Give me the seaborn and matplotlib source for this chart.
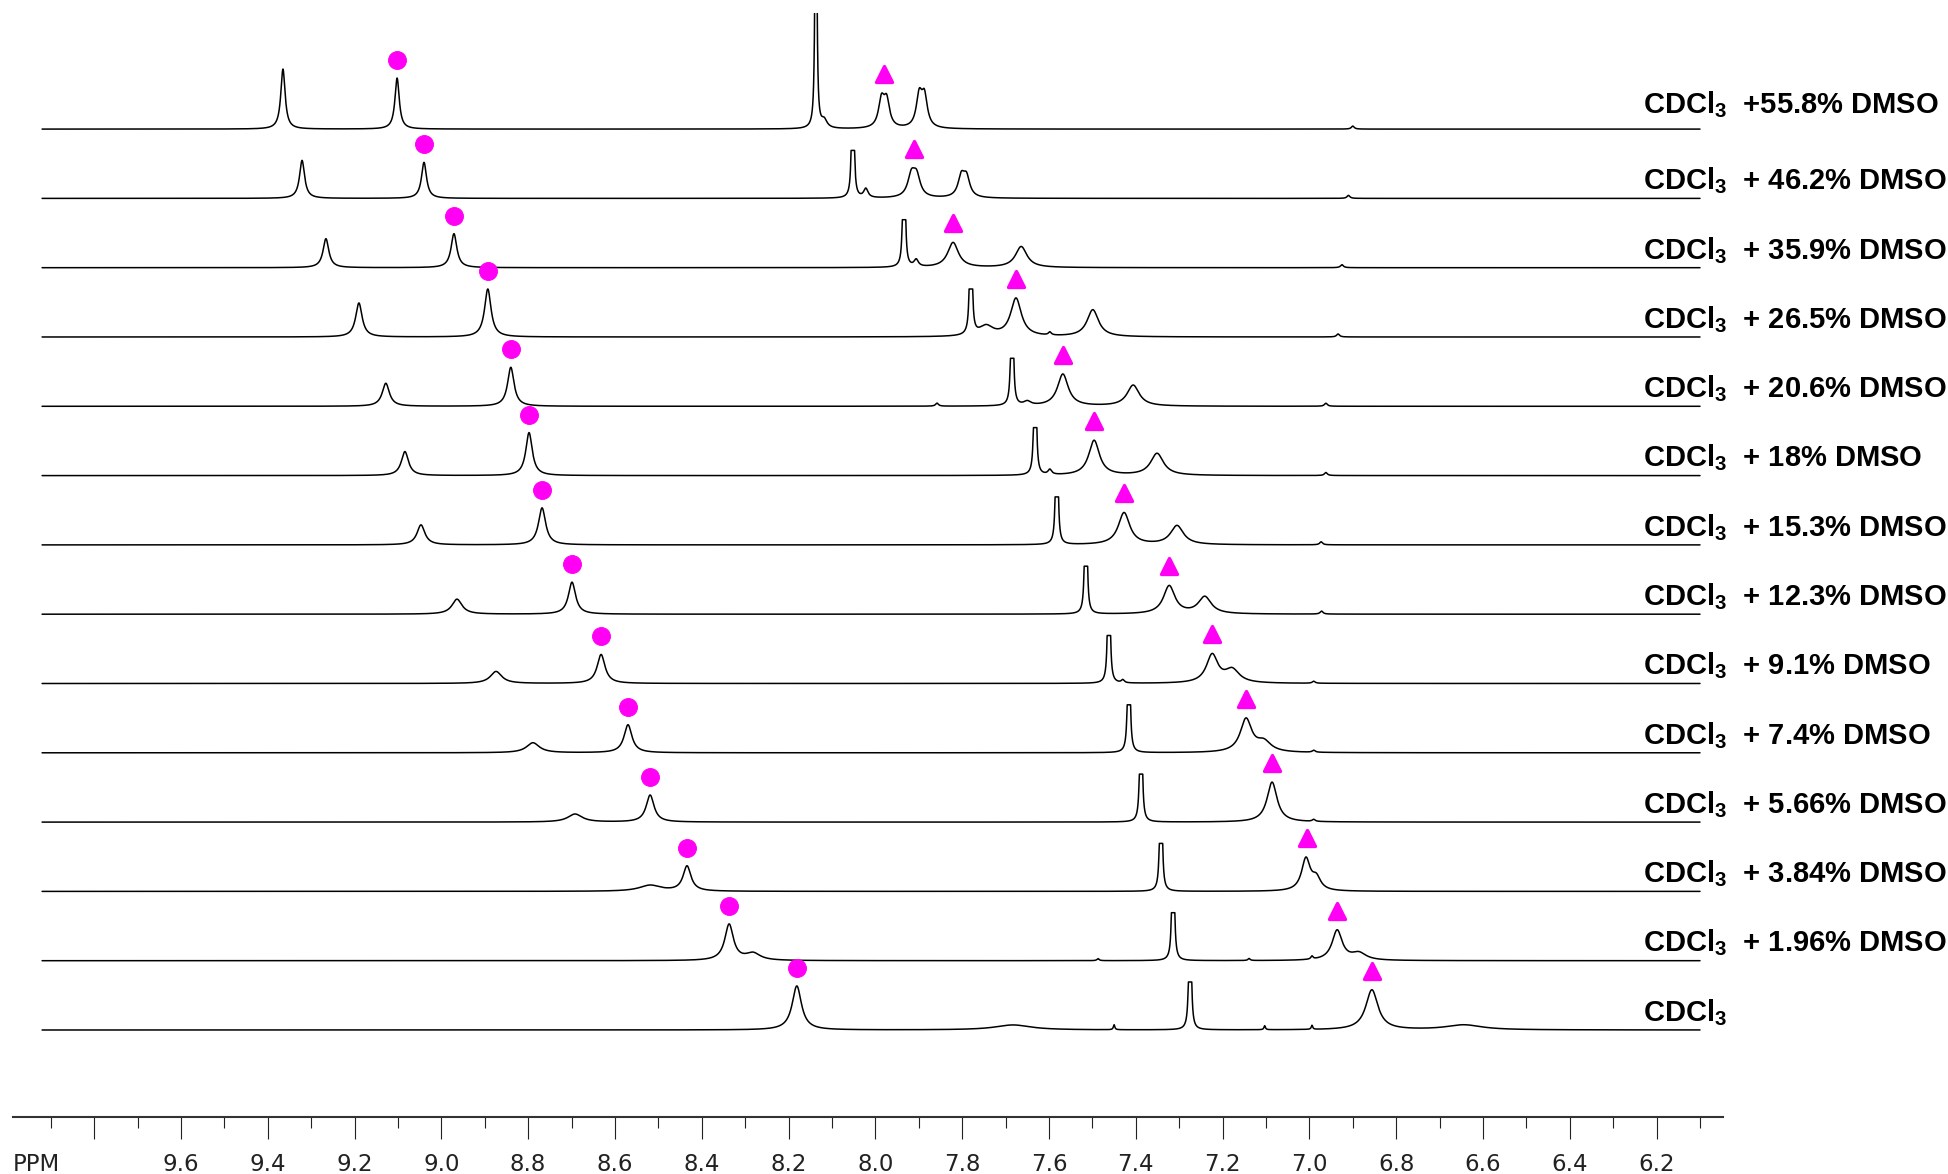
import numpy as np
import pandas as pd
import seaborn as sns
import matplotlib.pyplot as plt
from matplotlib.markers import MarkerStyle

# stacked 1H NMR spectra, top (55.8% DMSO) to bottom (pure CDCl3)
labels = [
    "CDCl$_3$  +55.8% DMSO",
    "CDCl$_3$  + 46.2% DMSO",
    "CDCl$_3$  + 35.9% DMSO",
    "CDCl$_3$  + 26.5% DMSO",
    "CDCl$_3$  + 20.6% DMSO",
    "CDCl$_3$  + 18% DMSO",
    "CDCl$_3$  + 15.3% DMSO",
    "CDCl$_3$  + 12.3% DMSO",
    "CDCl$_3$  + 9.1% DMSO",
    "CDCl$_3$  + 7.4% DMSO",
    "CDCl$_3$  + 5.66% DMSO",
    "CDCl$_3$  + 3.84% DMSO",
    "CDCl$_3$  + 1.96% DMSO",
    "CDCl$_3$",
]

# marked signals (ppm)
circle_ppm = [9.102, 9.040, 8.971, 8.893, 8.840, 8.798, 8.768, 8.699,
              8.632, 8.570, 8.519, 8.434, 8.337, 8.181]
triangle_ppm = [7.980, 7.911, 7.821, 7.676, 7.568, 7.496, 7.427, 7.323,
                7.224, 7.146, 7.086, 7.005, 6.936, 6.856]

# peaks per spectrum: (ppm, height, half width)
peaks_558 = [(9.365, 60, 0.006), (9.102, 51, 0.006), (8.137, 600, 0.0015), (8.118, 8, 0.008),
             (7.986, 27, 0.008), (7.974, 26, 0.008), (7.899, 31, 0.008), (7.887, 30, 0.008),
             (6.900, 3, 0.004)]
peaks_462 = [(9.321, 38, 0.007), (9.040, 36, 0.007), (8.052, 400, 0.0015), (8.022, 9, 0.006),
             (7.917, 21, 0.010), (7.905, 20, 0.010), (7.802, 20, 0.009), (7.790, 19, 0.009),
             (6.910, 3, 0.004)]
peaks_359 = [(9.266, 29, 0.008), (8.971, 34, 0.008), (7.934, 400, 0.0015), (7.906, 7, 0.006),
             (7.821, 25, 0.015), (7.664, 21, 0.016), (6.925, 3, 0.004)]
peaks_265 = [(9.190, 34, 0.009), (8.893, 48, 0.009), (7.780, 400, 0.0015), (7.745, 10, 0.02),
             (7.676, 38, 0.015), (7.598, 3, 0.004), (7.499, 27, 0.016), (6.934, 3, 0.004)]
peaks_206 = [(9.128, 23, 0.010), (8.840, 39, 0.009), (7.685, 400, 0.0015), (7.858, 3, 0.004),
             (7.650, 4, 0.010), (7.568, 32, 0.015), (7.406, 21, 0.017), (6.962, 3, 0.004)]
peaks_180 = [(9.084, 24, 0.010), (8.798, 43, 0.009), (7.632, 400, 0.0015), (7.598, 5, 0.005),
             (7.496, 35, 0.015), (7.351, 22, 0.018), (6.962, 3, 0.004)]
peaks_153 = [(9.047, 20, 0.011), (8.768, 37, 0.010), (7.582, 400, 0.0015),
             (7.427, 32, 0.016), (7.305, 19, 0.018), (6.973, 3, 0.004)]
peaks_123 = [(8.964, 15, 0.014), (8.699, 32, 0.010), (7.515, 400, 0.0015),
             (7.323, 28, 0.016), (7.241, 17, 0.018), (6.972, 3, 0.004)]
peaks_91 = [(8.874, 12, 0.016), (8.632, 29, 0.011), (7.462, 400, 0.0015), (7.430, 3, 0.004),
            (7.224, 28, 0.016), (7.178, 13, 0.020), (6.990, 2, 0.004)]
peaks_74 = [(8.789, 10, 0.018), (8.570, 28, 0.011), (7.416, 400, 0.0015),
            (7.146, 33, 0.016), (7.105, 10, 0.020), (6.990, 2, 0.004)]
peaks_566 = [(8.692, 8, 0.020), (8.519, 27, 0.011), (7.388, 400, 0.0015),
             (7.086, 40, 0.014), (6.990, 2, 0.004)]
peaks_384 = [(8.519, 6, 0.030), (8.434, 25, 0.011), (7.342, 400, 0.0015),
             (7.008, 32, 0.012), (6.984, 12, 0.012)]
peaks_196 = [(8.337, 36, 0.012), (8.282, 7, 0.020), (7.314, 400, 0.0015), (7.487, 2, 0.003),
             (7.139, 2, 0.003), (6.994, 3, 0.003), (6.936, 30, 0.014), (6.886, 7, 0.020)]
peaks_0 = [(8.181, 44, 0.013), (7.683, 5, 0.050), (7.275, 400, 0.0015), (7.450, 5, 0.002),
           (7.103, 4, 0.002), (6.994, 4, 0.002), (6.856, 40, 0.017), (6.644, 5, 0.050)]

spectra_peaks = [peaks_558, peaks_462, peaks_359, peaks_265, peaks_206, peaks_180, peaks_153,
                 peaks_123, peaks_91, peaks_74, peaks_566, peaks_384, peaks_196, peaks_0]

major_ticks = [9.8, 9.6, 9.4, 9.2, 9.0, 8.8, 8.6, 8.4, 8.2, 8.0, 7.8, 7.6, 7.4, 7.2, 7.0,
               6.8, 6.6, 6.4, 6.2]
major_labels = ["", "9.6", "9.4", "9.2", "9.0", "8.8", "8.6", "8.4", "8.2", "8.0", "7.8",
                "7.6", "7.4", "7.2", "7.0", "6.8", "6.6", "6.4", "6.2"]
minor_ticks = [9.9, 9.7, 9.5, 9.3, 9.1, 8.9, 8.7, 8.5, 8.3, 8.1, 7.9, 7.7, 7.5, 7.3, 7.1,
               6.9, 6.7, 6.5, 6.3, 6.1]

MAGENTA = "#ff00f5"
CUT = 48          # tall solvent lines are clipped at this height
ROW_STEP = 69.3   # vertical spacing between spectra
BASE = 87


def spectrum(ppm, peaks, cut=None):
    y = np.zeros_like(ppm)
    for c, h, w in peaks:
        y += h / (1 + ((ppm - c) / w) ** 2)
    if cut is not None:
        y = np.minimum(y, cut)
    return y


sns.set_style("white")
plt.rcParams["font.family"] = ["DejaVu Sans"]
plt.rcParams["mathtext.default"] = "regular"

fig = plt.figure(figsize=(19.48, 11.74), dpi=100)
W, H = 1948, 1174
ax = fig.add_axes([13 / W, 1 - 1117 / H, (1723 - 13) / W, (1117 - 13) / H])

ppm = np.linspace(9.92, 6.10, 24000)
n = len(spectra_peaks)
circle_y, triangle_y = [], []

for i, peaks in enumerate(spectra_peaks):
    offset = BASE + (n - 1 - i) * ROW_STEP
    y = spectrum(ppm, peaks, None if i == 0 else CUT)
    df = pd.DataFrame({"ppm": ppm, "y": y + offset})
    sns.lineplot(data=df, x="ppm", y="y", ax=ax, color="black", lw=1.1,
                 estimator=None, sort=False)

    win = np.abs(ppm - circle_ppm[i]) < 0.012
    circle_y.append(offset + y[win].max() + 18)
    win = np.abs(ppm - triangle_ppm[i]) < 0.012
    triangle_y.append(offset + y[win].max() + 19)

    lift = 16 if i == 0 else 9
    ax.text(6.231, offset + lift, labels[i], ha="left", va="baseline", fontsize=21,
            fontweight="bold", family="Liberation Sans", color="black", clip_on=False)

ax.plot(circle_ppm, circle_y, linestyle="none", marker="o", ms=12.8,
        mfc=MAGENTA, mec=MAGENTA, mew=0.8)
ax.plot(triangle_ppm, triangle_y, linestyle="none",
        marker=MarkerStyle("^", joinstyle="round"), ms=11.5, mfc=MAGENTA, mec=MAGENTA, mew=2.4)

ax.set_xlim(9.987, 6.047)
ax.set_ylim(0, 1104)
ax.set_xlabel("")
ax.set_ylabel("")
ax.set_yticks([])
ax.set_xticks(major_ticks)
ax.set_xticklabels(major_labels)
ax.set_xticks(minor_ticks, minor=True)
ax.tick_params(axis="x", which="major", bottom=True, direction="out", length=15.8,
               width=0.8, pad=10, labelsize=16.5, colors="#222222")
ax.tick_params(axis="x", which="minor", bottom=True, direction="out", length=7.9,
               width=0.8, colors="#222222")
for side in ["top", "left", "right"]:
    ax.spines[side].set_visible(False)
ax.spines["bottom"].set_linewidth(1.5)
ax.spines["bottom"].set_color("#333333")

fig.text(13 / W, 1 - 1153 / H, "PPM", ha="left", va="top", fontsize=16.5, color="#222222")

fig.savefig("out.png", dpi=100, facecolor="white")
